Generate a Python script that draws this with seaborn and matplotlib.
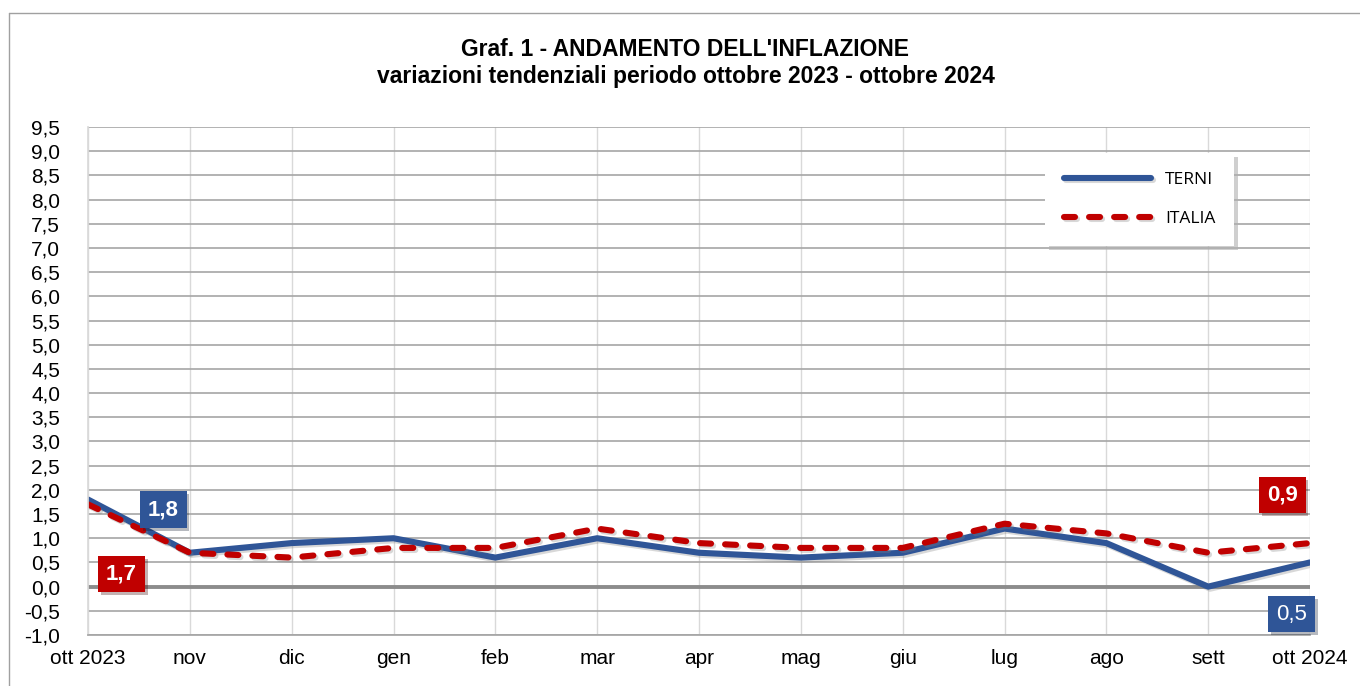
import numpy as np
import pandas as pd
import matplotlib
matplotlib.use("Agg")
import matplotlib.pyplot as plt
import matplotlib.patheffects as pe
import seaborn as sns

# DATI
mesi = ["ott 2023", "nov", "dic", "gen", "feb", "mar", "apr",
        "mag", "giu", "lug", "ago", "sett", "ott 2024"]
terni = [1.8, 0.7, 0.9, 1.0, 0.6, 1.0, 0.7, 0.6, 0.7, 1.2, 0.9, 0.0, 0.5]
italia = [1.7, 0.7, 0.6, 0.8, 0.8, 1.2, 0.9, 0.8, 0.8, 1.3, 1.1, 0.7, 0.9]
y_ticks = np.arange(-1.0, 9.51, 0.5)

BLU = "#2F5597"
ROSSO = "#C00000"

sns.set_theme(style="white")
plt.rcParams["font.family"] = ["Liberation Sans", "DejaVu Sans"]
plt.rcParams["text.color"] = "black"
plt.rcParams["xtick.color"] = "black"
plt.rcParams["ytick.color"] = "black"

df = pd.DataFrame({"mese": mesi, "x": range(len(mesi)),
                   "TERNI": terni, "ITALIA": italia})

fig = plt.figure(figsize=(13.6, 6.86), dpi=100)
ax = fig.add_axes([88 / 1360, 1 - 635 / 686, (1310 - 88) / 1360, (635 - 127) / 686])

# bordo esterno
fig.add_artist(plt.Line2D([9 / 1360, 9 / 1360], [0, 1 - 13 / 686],
                          transform=fig.transFigure, color="#a0a0a0", lw=1))
fig.add_artist(plt.Line2D([9 / 1360, 1], [1 - 13 / 686, 1 - 13 / 686],
                          transform=fig.transFigure, color="#a0a0a0", lw=1))

ombra = [pe.SimpleLineShadow(offset=(1.5, -1.5), shadow_color="gray", alpha=0.3), pe.Normal()]

sns.lineplot(data=df, x="x", y="TERNI", ax=ax, color=BLU, lw=4.4,
             label="TERNI", solid_capstyle="round", path_effects=ombra)
sns.lineplot(data=df, x="x", y="ITALIA", ax=ax, color=ROSSO, lw=4.4,
             label="ITALIA", dashes=(1.8, 2.3), dash_capstyle="round",
             path_effects=ombra)

ax.set_xlim(0, len(mesi) - 1)
ax.set_ylim(-1.0, 9.5)
ax.set_xticks(range(len(mesi)))
ax.set_xticklabels(mesi, fontsize=15)
ax.set_yticks(y_ticks)
ax.set_yticklabels([f"{v:.1f}".replace(".", ",") for v in y_ticks], fontsize=15)
ax.tick_params(axis="y", pad=20, length=0)
ax.tick_params(axis="x", pad=10, length=0)
ax.set_xlabel("")
ax.set_ylabel("")

ax.grid(axis="y", color="#a6a6a6", lw=1.2)
ax.grid(axis="x", color="#d9d9d9", lw=1)
ax.axhline(0, color="#8c8c8c", lw=2.8, zorder=1.5)
for s in ["top", "right"]:
    ax.spines[s].set_visible(False)
ax.spines["left"].set_color("#d9d9d9")
ax.spines["bottom"].set_color("#a6a6a6")
ax.set_axisbelow(True)

fig.text(0.504, 1 - 49 / 686, "Graf. 1 - ANDAMENTO DELL'INFLAZIONE",
         ha="center", va="center", fontsize=16.5, fontweight="bold")
fig.text(0.504, 1 - 77 / 686, "variazioni tendenziali periodo ottobre 2023 - ottobre 2024",
         ha="center", va="center", fontsize=16.5, fontweight="bold")

# etichette valori
def etichetta(x, y, testo, colore, grassetto=True):
    t = ax.text(x, y, testo, ha="center", va="center", color="white",
                fontsize=16, fontweight="bold" if grassetto else "normal",
                bbox=dict(boxstyle="square,pad=0.35", fc=colore, ec="none"), zorder=5)
    t.get_bbox_patch().set_path_effects([pe.SimplePatchShadow(offset=(2, -2), alpha=0.3), pe.Normal()])

etichetta(0.74, 1.59, "1,8", BLU)
etichetta(0.33, 0.26, "1,7", ROSSO)
etichetta(11.73, 1.89, "0,9", ROSSO)
etichetta(11.82, -0.57, "0,5", BLU, grassetto=False)

leg = ax.legend(loc="upper left", bbox_to_anchor=((1045 - 88) / 1222, 1 - (153 - 127) / 508),
                frameon=True, fancybox=False,
                shadow={"color": "#b0b0b0", "alpha": 0.6, "ox": 3, "oy": -3},
                handlelength=5.0, labelspacing=1.3, borderpad=1.1, handletextpad=0.8,
                borderaxespad=0, prop={"family": ["Open Sans"], "size": 12.5})
leg.get_frame().set_edgecolor("white")
leg.get_frame().set_linewidth(0)

fig.savefig("out.png", dpi=100, facecolor="white")
